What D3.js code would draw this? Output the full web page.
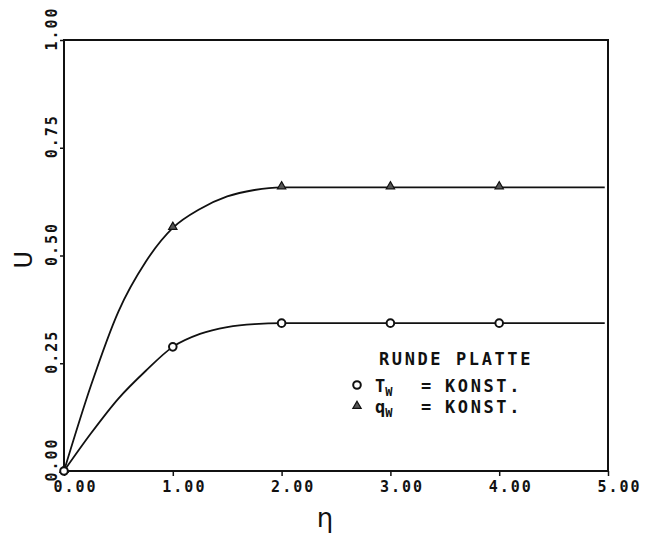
<!DOCTYPE html>
<html>
<head>
<meta charset="utf-8">
<script src="https://cdn.jsdelivr.net/npm/d3@7"></script>
<style>
  body { margin: 0; background: #fff; }
  svg text { font-family: "DejaVu Sans Mono", monospace; fill: #111; font-weight: bold; }
</style>
</head>
<body>
<div id="chart"></div>
<script>
// curves (eta, U)
const etaQ = [0, 0.25, 0.5, 0.75, 1.0, 1.25, 1.5, 1.75, 2.0, 3.0, 4.0, 4.97];
const uQ = [0, 0.2, 0.37, 0.485, 0.564, 0.608, 0.637, 0.652, 0.658, 0.658, 0.658, 0.658];
const etaT = [0, 0.25, 0.5, 0.75, 1.0, 1.25, 1.5, 1.75, 2.0, 3.0, 4.0, 4.97];
const uT = [0, 0.088, 0.168, 0.232, 0.288, 0.318, 0.334, 0.341, 0.343, 0.343, 0.343, 0.343];

// marker positions
const markEta = [0, 1, 2, 3, 4];
const markQ = [0, 0.564, 0.658, 0.658, 0.658];
const markT = [0, 0.288, 0.343, 0.343, 0.343];

const xTicks = [0, 1, 2, 3, 4, 5];
const yTicks = [0, 0.25, 0.5, 0.75, 1];

const width = 650;
const height = 535;
const margin = { top: 40, right: 42, bottom: 64, left: 64 };

const xScale = d3.scaleLinear().domain([0, 5]).range([margin.left, width - margin.right]);
const yScale = d3.scaleLinear().domain([0, 1]).range([height - margin.bottom, margin.top]);

const svg = d3.select('#chart').append('svg')
  .attr('width', width)
  .attr('height', height);

// frame
svg.append('rect')
  .attr('x', xScale(0))
  .attr('y', yScale(1))
  .attr('width', xScale(5) - xScale(0))
  .attr('height', yScale(0) - yScale(1))
  .attr('fill', 'none')
  .attr('stroke', '#111')
  .attr('stroke-width', 2);

// x axis
const xAxis = d3.axisBottom(xScale).tickValues(xTicks).tickSize(5).tickFormat(d3.format('.2f'));
const gx = svg.append('g')
  .attr('transform', `translate(0, ${yScale(0)})`)
  .call(xAxis);
gx.select('.domain').remove();
gx.selectAll('.tick line').attr('stroke', '#111').attr('stroke-width', 1.5);
gx.selectAll('.tick text')
  .attr('text-anchor', 'start')
  .attr('x', -11)
  .attr('y', 10)
  .attr('dy', '0.71em')
  .style('font-size', '15px')
  .style('letter-spacing', '2px');

// y axis, labels turned so the decimal point sits on the tick
const yAxis = d3.axisLeft(yScale).tickValues(yTicks).tickSize(4).tickFormat(d3.format('.2f'));
const gy = svg.append('g')
  .attr('transform', `translate(${xScale(0)}, 0)`)
  .call(yAxis);
gy.select('.domain').remove();
gy.selectAll('.tick line').attr('stroke', '#111').attr('stroke-width', 1.5);
gy.selectAll('.tick text')
  .attr('text-anchor', 'start')
  .attr('transform', 'rotate(-90)')
  .attr('x', -10)
  .attr('y', -7)
  .attr('dy', 0)
  .style('font-size', '15px')
  .style('letter-spacing', '2px');

// axis titles
svg.append('text')
  .attr('x', 325)
  .attr('y', 527)
  .attr('text-anchor', 'middle')
  .style('font-family', '"DejaVu Sans", sans-serif')
  .style('font-weight', 'normal')
  .style('font-size', '26px')
  .text('η');

svg.append('text')
  .attr('transform', `translate(32, ${yScale(0.49)}) rotate(-90)`)
  .attr('text-anchor', 'middle')
  .style('font-family', '"DejaVu Sans", sans-serif')
  .style('font-weight', 'normal')
  .style('font-size', '24px')
  .text('U');

// curves
const line = d3.line()
  .x(d => xScale(d[0]))
  .y(d => yScale(d[1]))
  .curve(d3.curveMonotoneX);

[[etaQ, uQ], [etaT, uT]].forEach(([xs, ys]) => {
  svg.append('path')
    .datum(xs.map((x, i) => [x, ys[i]]))
    .attr('d', line)
    .attr('fill', 'none')
    .attr('stroke', '#111')
    .attr('stroke-width', 1.8);
});

// markers
const tri = d3.symbol().type(d3.symbolTriangle).size(30);
svg.selectAll('.mq')
  .data(markEta.map((x, i) => [x, markQ[i]]))
  .enter().append('path')
    .attr('class', 'mq')
    .attr('d', tri)
    .attr('transform', d => `translate(${xScale(d[0])}, ${yScale(d[1]) - 1})`)
    .attr('fill', '#555')
    .attr('stroke', '#111')
    .attr('stroke-width', 1.2);

svg.selectAll('.mt')
  .data(markEta.map((x, i) => [x, markT[i]]))
  .enter().append('circle')
    .attr('class', 'mt')
    .attr('cx', d => xScale(d[0]))
    .attr('cy', d => yScale(d[1]))
    .attr('r', 3.8)
    .attr('fill', '#fff')
    .attr('stroke', '#111')
    .attr('stroke-width', 2);

// legend
const legend = svg.append('g');
legend.append('text')
  .attr('x', 379)
  .attr('y', 365)
  .style('font-size', '17px')
  .style('letter-spacing', '2.6px')
  .text('RUNDE PLATTE');

const rows = [['T', 392], ['q', 413]];
rows.forEach(([sym, y], i) => {
  if (i === 0) {
    legend.append('circle')
      .attr('cx', 357).attr('cy', y - 7).attr('r', 3.8)
      .attr('fill', '#fff').attr('stroke', '#111').attr('stroke-width', 2);
  } else {
    legend.append('path')
      .attr('d', tri)
      .attr('transform', `translate(357, ${y - 7})`)
      .attr('fill', '#555').attr('stroke', '#111').attr('stroke-width', 1.2);
  }
  const t = legend.append('text')
    .attr('x', 375)
    .attr('y', y)
    .style('font-size', '17px');
  t.append('tspan').text(sym);
  t.append('tspan').attr('dy', 4).style('font-size', '12px').text('W');
  t.append('tspan').attr('x', 421).attr('dy', -4).style('letter-spacing', '2.6px').text('=');
  t.append('tspan').attr('x', 445).style('letter-spacing', '2.6px').text('KONST.');
});
</script>
</body>
</html>
